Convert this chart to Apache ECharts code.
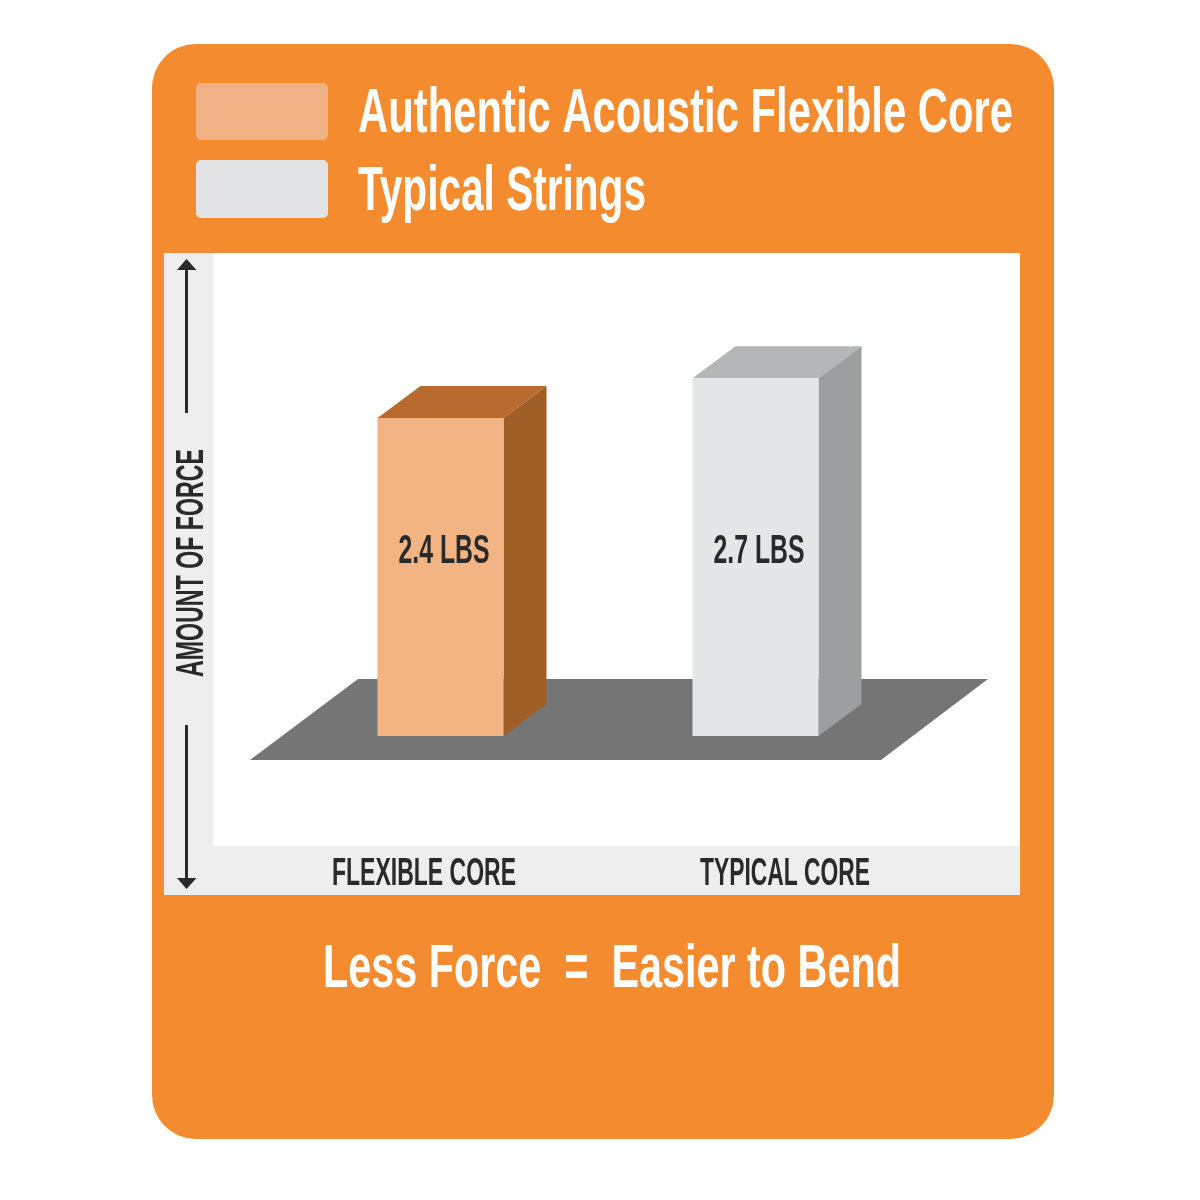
<!DOCTYPE html>
<html>
<head>
<meta charset="utf-8">
<style>html,body{margin:0;padding:0;background:#fff}#c{width:1200px;height:1200px}</style>
<script src="https://cdn.jsdelivr.net/npm/echarts@6/dist/echarts.min.js"></script>
</head>
<body>
<div id="c"></div>
<script>
const categories = ['FLEXIBLE CORE', 'TYPICAL CORE'];
const seriesNames = ['Authentic Acoustic Flexible Core', 'Typical Strings'];
const flexibleValues = [2.4];
const typicalValues = [2.7];
const valueLabels = ['2.4 LBS', '2.7 LBS'];
const yAxisTitle = 'AMOUNT OF FORCE';
const footer = 'Less Force  =  Easier to Bend';

const FONT = '"Liberation Sans Narrow","Liberation Sans",sans-serif';
const ORANGE = '#f48c2f', INK = '#2b2a2b';
const palettes = [
  { front: '#f2b482', top: '#b96a2f', side: '#a05f27' },
  { front: '#e5e6e7', top: '#b5b6b7', side: '#9d9e9f' }
];

const ctx = document.createElement('canvas').getContext('2d');
function scaleFor(text, size, weight, width) {
  ctx.font = weight + ' ' + size + 'px ' + FONT;
  return width / ctx.measureText(text).width;
}
function fitText(text, x, y, width, size, color, weight, rotation) {
  weight = weight || 'bold';
  return {
    type: 'text', x: x, y: y, z: 5,
    rotation: rotation || 0,
    scaleX: scaleFor(text, size, weight, width),
    style: { text: text, x: 0, y: 0, fill: color, font: weight + ' ' + size + 'px ' + FONT,
             textAlign: 'left', textVerticalAlign: 'middle' }
  };
}
function rect(x, y, w, h, fill, r) {
  return { type: 'rect', z: 1, shape: { x: x, y: y, width: w, height: h, r: r || 0 }, style: { fill: fill } };
}
function poly(points, fill, z) {
  return { type: 'polygon', z: z || 1, shape: { points: points }, style: { fill: fill } };
}
function seg(x, y1, y2) {
  return { type: 'line', z: 2, shape: { x1: x, y1: y1, x2: x, y2: y2 }, style: { stroke: INK, lineWidth: 3 } };
}

function barRenderer(idx) {
  return function (params, api) {
    const top = api.coord([api.value(0), api.value(1)]);
    const base = api.coord([api.value(0), 0]);
    const w = api.size([1, 0])[0] * 0.4;
    const dx = 43, dy = 32;
    const l = top[0] - w / 2, r = top[0] + w / 2;
    const p = palettes[idx];
    const labelPos = api.coord([api.value(0), 1.39]);
    const label = valueLabels[idx];
    const size = 41;
    return {
      type: 'group',
      children: [
        { type: 'polygon', shape: { points: [[l, top[1]], [r, top[1]], [r + dx, top[1] - dy], [l + dx, top[1] - dy]] }, style: { fill: p.top } },
        { type: 'polygon', shape: { points: [[r, top[1]], [r + dx, top[1] - dy], [r + dx, base[1] - dy], [r, base[1]]] }, style: { fill: p.side } },
        { type: 'rect', shape: { x: l, y: top[1], width: w, height: base[1] - top[1] }, style: { fill: p.front } },
        { type: 'text', x: top[0] + 3.5, y: labelPos[1], scaleX: scaleFor(label, size, 'bold', 91),
          style: { text: label, x: 0, y: 0, fill: INK, font: 'bold ' + size + 'px ' + FONT, textAlign: 'center', textVerticalAlign: 'middle' } }
      ]
    };
  };
}

const graphicEls = [
  rect(152, 44, 902, 1095, ORANGE, 44),
  rect(164, 253, 856, 642, '#eeeeef'),
  rect(213, 253, 807, 593, '#ffffff'),
  poly([[250, 760], [881, 760], [988, 679], [358, 679]], '#757575'),
  rect(196, 83, 132, 57, '#f0b284', 5),
  rect(196, 160, 132, 58, '#e2e3e4', 5),
  fitText(seriesNames[0], 358, 115, 655, 63, '#ffffff'),
  fitText(seriesNames[1], 358, 193, 288, 63, '#ffffff'),
  seg(186.5, 413, 266),
  poly([[186.5, 259], [196.5, 270], [177, 270]], INK, 2),
  seg(186.5, 725, 882),
  poly([[186.5, 889], [196.5, 878], [177, 878]], INK, 2),
  fitText(yAxisTitle, 193, 677, 228, 38, INK, 'bold', Math.PI / 2),
  fitText(categories[0], 332, 875, 184, 38, INK),
  fitText(categories[1], 700, 875, 170, 38, INK),
  fitText(footer, 323, 970, 578, 62, '#ffffff')
];

const chart = echarts.init(document.getElementById('c'), null, { renderer: 'canvas', width: 1200, height: 1200 });
chart.setOption({
  animation: false,
  backgroundColor: '#ffffff',
  tooltip: { show: false },
  grid: { left: 283, top: 259, width: 630, height: 477 },
  xAxis: { type: 'category', data: categories, show: false },
  yAxis: { type: 'value', min: 0, max: 3.6, show: false },
  graphic: { elements: graphicEls },
  series: [
    { name: seriesNames[0], type: 'custom', renderItem: barRenderer(0), z: 3, clip: false,
      encode: { x: 0, y: 1 }, data: flexibleValues.map(function (v) { return [0, v]; }) },
    { name: seriesNames[1], type: 'custom', renderItem: barRenderer(1), z: 3, clip: false,
      encode: { x: 0, y: 1 }, data: typicalValues.map(function (v) { return [1, v]; }) }
  ]
});
</script>
</body>
</html>
